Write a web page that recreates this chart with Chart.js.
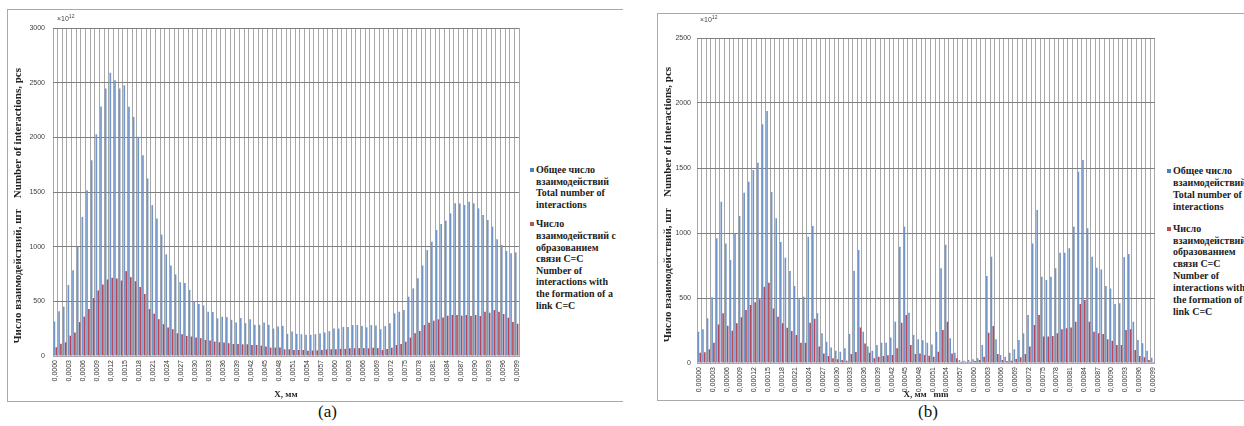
<!DOCTYPE html>
<html>
<head>
<meta charset="utf-8">
<script src="https://cdn.jsdelivr.net/npm/chart.js@4.4.0/dist/chart.umd.min.js"></script>
<style>
    body { margin: 0; width: 1244px; height: 426px; overflow: hidden; background: #fff; position: relative; }
    .frame { position: absolute; border: 1px solid #a9a9a9; border-right: none; }
    #frameA { left: 7px; top: 9px; width: 615px; height: 391px; }
    #frameB { left: 657px; top: 13px; width: 600px; height: 386px; }
    canvas { position: absolute; }
    .legend { position: absolute; font: bold 10px "Liberation Serif", serif; color: #222; white-space: nowrap; overflow: hidden; }
    .legend .item { position: relative; padding-left: 6px; }
    .legend .mk { position: absolute; left: 0; width: 4px; height: 4px; }
    .caption { position: absolute; font: 17px "Liberation Serif", serif; color: #111; }
</style>
</head>
<body>
<div class="frame" id="frameA"></div>
<div class="frame" id="frameB"></div>
<canvas id="chartA" width="522" height="390" style="left:8px;top:10px;width:522px;height:390px"></canvas>
<canvas id="chartB" width="507" height="386" style="left:658px;top:14px;width:507px;height:386px"></canvas>

<div class="legend" style="left:530px;top:164px;width:91px;line-height:11.6px">
    <div class="item"><span class="mk" style="top:4px;background:#4f81bd"></span>Общее число<br>взаимодействий<br>Total number of<br>interactions</div>
    <div class="item" style="margin-top:8px"><span class="mk" style="top:4px;background:#c0504d"></span>Число<br>взаимодействий с<br>образованием<br>связи С=С<br>Number of<br>interactions with<br>the formation of a<br>link C=C</div>
</div>
<div class="legend" style="left:1167px;top:165px;width:90px;line-height:11.9px">
    <div class="item"><span class="mk" style="top:4px;background:#4f81bd"></span>Общее число<br>взаимодействий<br>Total number of<br>interactions</div>
    <div class="item" style="margin-top:10px"><span class="mk" style="top:4px;background:#c0504d"></span>Число<br>взаимодействий с<br>образованием<br>связи С=С<br>Number of<br>interactions with<br>the formation of a<br>link C=C</div>
</div>

<div class="caption" style="left:318px;top:402px">(a)</div>
<div class="caption" style="left:918px;top:402px">(b)</div>

<script>
// x = 0.0000 ... 0.0099 (a) and 0.00000 ... 0.00099 (b), one bar pair per step
const categoriesA = [];
const categoriesB = [];
for (let i = 0; i < 100; i++) {
    categoriesA.push('0,' + String(i).padStart(4, '0'));
    categoriesB.push('0,' + String(i).padStart(5, '0'));
}

// Chart (a), x10^12
const totalA = [
    315, 409, 451, 650, 784, 997, 1272, 1516, 1790, 2028, 2281,
    2447, 2590, 2523, 2447, 2477, 2279, 2187, 2005, 1837, 1624, 1380,
    1257, 1110, 930, 828, 746, 675, 667, 604, 497, 475, 463,
    405, 402, 345, 358, 356, 331, 307, 347, 300, 337, 285,
    285, 307, 285, 251, 270, 276, 202, 224, 202,
    199, 195, 193, 200, 205, 215, 228, 251, 251, 265, 265, 283, 283, 274, 262, 283, 280, 245,
    274, 300, 390, 405, 420, 542, 618, 710, 829, 969, 1045, 1152, 1207, 1238, 1305, 1396, 1396,
    1381, 1411, 1396, 1350, 1289, 1244, 1183, 1067, 1015, 960, 939, 948
];
const linkA = [
    80, 112, 125, 186, 215, 310, 360, 431, 530, 600, 655, 700, 715, 708, 690, 776, 721, 684, 632, 567, 429,
    386, 337, 291, 261, 245, 208, 199, 184, 178, 169, 163, 147, 141, 132, 126, 123, 117, 110, 110, 107,
    107, 101, 101, 95, 86, 77, 77, 77, 61, 61, 55, 55, 55, 49,
    50, 52, 55, 60, 62, 62, 65, 65, 70, 70, 72, 72, 70, 75, 72, 55, 65, 76, 100, 110, 131, 168,
    207, 229, 283, 305, 323, 335, 353, 369, 375, 375, 369, 375, 366, 375, 366, 405, 396, 420,
    405, 384, 350, 310, 295
];

// Chart (b), x10^12
const totalB = [
    241, 259, 344, 505, 959, 1241, 920, 792, 992, 1131, 1310, 1395, 1485, 1541, 1836, 1938,
    1315, 1113, 931, 810, 708, 592, 490, 510, 972, 1054, 382, 228, 164, 120, 95, 87, 113, 223,
    710, 869, 241, 126, 95, 138, 156, 156, 197, 318, 895, 1049, 387, 215, 182, 175, 156, 142, 241,
    728, 910, 190, 79, 23, 18, 23, 28, 36, 138, 669, 818, 182, 62, 49, 79, 105, 177, 228, 369, 920, 1177, 664,
    638, 664, 728, 849, 849, 882, 1049, 1472, 1561, 1036, 818, 733, 720, 592, 574, 454, 459, 813, 838,
    318, 177, 151, 95, 40
];
const linkB = [
    79, 82, 105, 156, 297, 382, 287, 249, 305, 351, 408, 446, 467, 490, 587, 618,
    420, 356, 305, 272, 246, 215, 156, 156, 310, 341, 126, 74, 54, 36, 28, 23, 18, 69,
    85, 274, 150, 79, 36, 49, 54, 59, 62, 113, 310, 369, 138, 69, 74, 62, 56, 49, 87,
    254, 318, 74, 36, 10, 10, 10, 15, 23, 49, 233, 285,
    69, 23, 15, 18, 30, 45, 70, 126, 292, 369, 203,
    203, 208, 228, 259, 267, 274, 318, 454, 485, 318, 241, 228, 223, 182, 172, 138, 138, 254, 259,
    100, 54, 44, 23, 8
];

const seriesNames = ['Общее число взаимодействий', 'Число взаимодействий с образованием связи С=С'];
const yTitle = 'Число взаимодействий, шт    Number of interactions, pcs';

// small "x10^12" note above the value axis
const expNote = {
    id: 'expNote',
    afterDraw(chart, args, opts) {
        const ctx = chart.ctx;
        const a = chart.chartArea;
        ctx.save();
        ctx.fillStyle = '#444';
        ctx.font = '7px "Liberation Sans"';
        ctx.fillText('×10', a.left + opts.dx, a.top - opts.dy);
        const w = ctx.measureText('×10').width;
        ctx.font = '5px "Liberation Sans"';
        ctx.fillText('12', a.left + opts.dx + w, a.top - opts.dy - 3);
        ctx.restore();
    }
};

function makeChart(id, labels, totals, links, o) {
    return new Chart(document.getElementById(id), {
        type: 'bar',
        data: {
            labels: labels,
            datasets: [
                { label: seriesNames[0], data: totals, backgroundColor: '#7196cb', barPercentage: 0.9, categoryPercentage: 0.8 },
                { label: seriesNames[1], data: links, backgroundColor: '#b24859', barPercentage: 0.9, categoryPercentage: 0.8 }
            ]
        },
        options: {
            responsive: false,
            animation: false,
            layout: { padding: { top: o.padTop, right: o.padRight, left: 0, bottom: 0 } },
            plugins: {
                legend: { display: false },
                tooltip: { enabled: false },
                expNote: { dx: o.expDx, dy: o.expDy }
            },
            scales: {
                x: {
                    grid: { color: '#a8a8a8', drawTicks: false, offset: true },
                    border: { color: '#a8a8a8' },
                    ticks: {
                        autoSkip: false, minRotation: 90, maxRotation: 90, padding: 4,
                        color: '#333', font: { family: 'Liberation Sans', size: 7 },
                        callback: (v, i) => (i % 3 === 0 ? labels[i] : '')
                    },
                    title: {
                        display: true, text: o.xTitle, color: '#222', padding: 0,
                        font: { family: 'Liberation Serif', weight: 'bold', size: 9 }
                    },
                    afterFit: s => { s.height = o.xH; }
                },
                y: {
                    min: 0, max: o.max,
                    grid: { color: '#808080', drawTicks: false },
                    border: { display: false },
                    ticks: {
                        stepSize: 500, padding: o.yPad, color: '#404040',
                        font: { family: 'Liberation Sans', size: 7 },
                        callback: v => String(v)
                    },
                    title: {
                        display: true, text: o.yTitle, color: '#222', padding: 4,
                        font: { family: 'Liberation Serif', weight: 'bold', size: 11 }
                    },
                    afterFit: s => { s.width = o.yW; }
                }
            }
        },
        plugins: [expNote]
    });
}

makeChart('chartA', categoriesA, totalA, linkA, {
    max: 3000, padTop: 18, padRight: 11, xH: 44, yW: 45, yPad: 8,
    expDx: 4, expDy: 7, xTitle: 'X, мм', yTitle: yTitle + '\u00a0'.repeat(10)
});
makeChart('chartB', categoriesB, totalB, linkB, {
    max: 2500, padTop: 24, padRight: 3, xH: 37, yW: 39, yPad: 6,
    expDx: 3, expDy: 16, xTitle: 'X, мм   mm', yTitle: yTitle + '\u00a0'.repeat(3)
});
</script>
</body>
</html>
